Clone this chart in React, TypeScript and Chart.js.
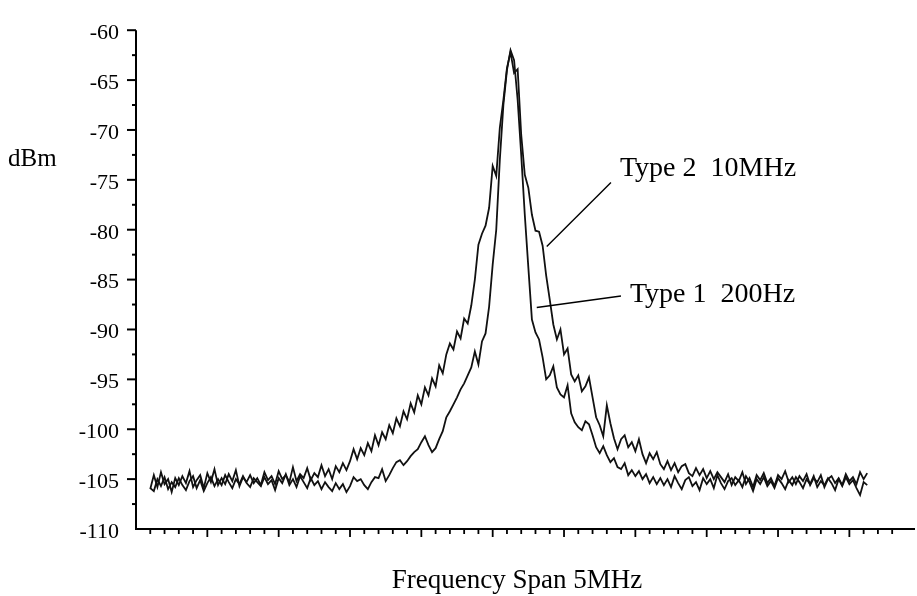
import React, { useEffect, useRef } from "react";
import { Chart, registerables } from "chart.js";

Chart.register(...registerables);

// ---- Data -----------------------------------------------------------------
// Sweep positions: index i -> FREQ_START + i * FREQ_STEP (axis divisions)
const FREQ_START = 1;
const FREQ_STEP = 0.25;

const X_MIN = 0;
const X_MAX = 54.6;
const Y_MIN = -110;
const Y_MAX = -60;
const Y_STEP = 2.5;
const X_STEP = 1;

// Type 2 10MHz (broad trace), dBm
const TYPE2_DBM = [
  -106.0, -104.6, -105.8, -104.3, -105.5, -105.0, -106.3, -104.9, -105.6, -104.7,
  -105.4, -104.2, -105.8, -105.1, -104.6, -105.9, -104.4, -105.3, -104.0, -105.6,
  -104.9, -105.5, -104.5, -105.2, -104.1, -105.7, -104.8, -105.3, -104.6, -105.4,
  -104.9, -105.6, -104.3, -105.1, -104.7, -105.5, -104.2, -105.0, -104.6, -105.3,
  -103.8, -105.2, -104.5, -104.9, -103.9, -105.1, -104.4, -104.8, -103.6, -104.7,
  -104.0, -105.0, -103.7, -104.3, -103.4, -104.1,
  -103.2, -102.0, -103.0, -101.9, -102.6, -101.4, -102.2, -100.6, -101.6, -100.3,
  -101.0, -99.6, -100.4, -98.9, -99.7, -98.2, -99.0, -97.4, -98.3, -96.6,
  -97.5, -95.8, -96.6, -94.9, -95.7, -93.6, -94.4, -92.5, -91.4, -92.0,
  -90.2, -90.9, -88.9, -89.4, -87.6,
  -85.0, -81.5, -80.4, -79.6, -77.8, -73.6, -74.6, -69.8, -67.0, -63.8,
  -62.2, -64.3, -63.9, -70.5, -74.5, -75.8, -78.5, -80.1, -80.2, -81.6,
  -84.6, -87.0,
  -89.5, -91.0, -90.0, -92.5, -91.9, -94.5, -95.2, -94.6, -96.2, -95.7,
  -94.8, -96.8, -98.8, -99.6, -100.7, -97.6, -99.4, -100.9, -102.0, -101.0,
  -100.6, -101.8, -101.3, -102.2, -101.0, -102.5, -103.4, -102.4, -103.0, -102.3,
  -103.5, -104.0, -103.2, -104.1, -103.4, -104.3, -103.7, -103.5, -104.4, -104.7,
  -103.9, -104.6, -104.0, -104.9, -104.2, -105.0, -104.3, -104.8,
  -105.3, -104.5, -105.6, -104.8, -105.2, -104.3, -105.5, -104.9, -105.8, -104.6,
  -105.1, -104.4, -105.4, -104.9, -105.7, -104.6, -105.0, -104.2, -105.3, -104.8,
  -105.5, -104.7, -105.2, -104.5, -105.6, -104.9, -105.3, -104.6, -105.8, -105.0,
  -104.7, -105.4, -104.9, -105.6, -104.5, -105.2, -104.8, -105.5, -104.3, -105.0,
  -104.4,
];

// Type 1 200Hz (narrow trace), dBm
const TYPE1_DBM = [
  -105.9, -106.2, -105.0, -105.7, -104.8, -106.0, -105.3, -105.8, -104.9, -105.6,
  -106.1, -105.2, -104.7, -105.9, -105.1, -106.2, -105.4, -104.8, -105.7, -105.0,
  -105.6, -104.6, -105.3, -105.9, -105.0, -105.5, -104.7, -105.4, -105.8, -104.9,
  -105.3, -105.7, -104.8, -105.5, -105.1, -106.1, -104.9, -105.4, -104.5, -105.6,
  -105.0, -105.8, -104.7, -105.3, -105.9, -104.9, -105.6, -105.2, -106.0, -105.3,
  -105.8, -106.2, -105.4, -106.0, -105.5, -106.3,
  -105.7, -104.8, -105.2, -105.0, -105.6, -106.0, -105.3, -104.8, -104.9, -104.0,
  -105.2, -104.6, -103.9, -103.3, -103.1, -103.6, -103.2, -102.7, -102.3, -102.0,
  -101.3, -100.7, -101.6, -102.3, -101.9, -101.0, -100.2, -98.8, -98.2, -97.5,
  -96.8, -96.0, -95.4, -94.6, -93.8, -92.2, -93.5, -91.2, -90.4, -87.7,
  -83.5, -80.0, -73.0, -67.5, -64.0, -62.0, -63.0, -67.0, -72.5, -78.5,
  -83.8, -89.0,
  -90.3, -91.0, -92.8, -95.0, -94.6, -93.7, -95.8, -96.5, -96.8, -95.6,
  -98.4, -99.3, -99.8, -100.1, -99.2, -99.5, -100.6, -101.8, -102.4, -101.7,
  -102.6, -103.3, -102.9, -103.8, -104.0, -103.4, -104.6, -104.1, -104.7, -104.2,
  -105.0, -104.5, -105.4, -104.8, -105.5, -104.9, -105.6,
  -105.0, -105.8, -104.7, -105.4, -106.0, -105.1, -104.8, -105.7, -105.3, -106.1,
  -104.9, -105.5, -105.0, -105.9, -104.6, -105.4, -106.0, -105.2, -104.9, -105.6,
  -105.1, -105.8, -104.7, -105.3, -106.2, -105.0, -105.5, -104.8, -105.7, -105.2,
  -105.9, -104.9, -105.4, -106.0, -105.1, -105.6, -104.8, -105.3, -105.9, -105.0,
  -105.5, -104.7, -105.8, -105.2, -105.6, -104.9, -105.4, -106.1, -105.0, -105.7,
  -104.8, -105.5, -105.1, -105.9, -106.6, -105.3, -105.6,
];

// Annotation labels with leader lines (data coordinates)
const SERIES_LABELS = ["Type 2  10MHz", "Type 1  200Hz"];
const LABEL_X = [33.92, 34.62];
const LABEL_Y = [-74.6, -87.24];
const LEADER_FROM_X = [33.29, 33.99];
const LEADER_FROM_Y = [-75.27, -86.65];
const LEADER_TO_X = [28.79, 28.09];
const LEADER_TO_Y = [-81.69, -87.79];

const Y_TITLE = "dBm";
const X_TITLE = "Frequency Span 5MHz";

// ---------------------------------------------------------------------------

const toPoints = (vals: number[]) =>
  vals.map((v, i) => ({ x: FREQ_START + i * FREQ_STEP, y: v }));

const SERIF = "'Liberation Serif', 'Times New Roman', serif";

const decorPlugin = {
  id: "decor",
  afterDraw(chart: any) {
    const { ctx, chartArea } = chart;
    const xs = chart.scales.x;
    const ys = chart.scales.y;
    ctx.save();
    ctx.strokeStyle = "#000";
    ctx.fillStyle = "#000";

    // axis lines
    ctx.lineWidth = 2;
    ctx.beginPath();
    ctx.moveTo(chartArea.left, chartArea.top);
    ctx.lineTo(chartArea.left, chartArea.bottom);
    ctx.lineTo(chartArea.right, chartArea.bottom);
    ctx.stroke();

    // y tick marks (outside, left)
    ys.ticks.forEach((t: any) => {
      if (t.value <= Y_MIN) return;
      const py = ys.getPixelForValue(t.value);
      const major = Math.abs(t.value % 5) < 1e-6;
      const len = major ? 9 : 4;
      ctx.beginPath();
      ctx.moveTo(chartArea.left - len, py);
      ctx.lineTo(chartArea.left, py);
      ctx.stroke();
    });

    // x tick marks (outside, below)
    ctx.lineWidth = 1.8;
    xs.ticks.forEach((t: any) => {
      const v = t.value;
      if (v <= X_MIN || Math.abs(v - Math.round(v)) > 1e-6) return;
      const px = xs.getPixelForValue(v);
      const major = Math.round(v) % 5 === 0;
      const len = major ? 8 : 5;
      ctx.beginPath();
      ctx.moveTo(px, chartArea.bottom);
      ctx.lineTo(px, chartArea.bottom + len);
      ctx.stroke();
    });

    // leader lines
    ctx.lineWidth = 1.4;
    for (let k = 0; k < SERIES_LABELS.length; k++) {
      ctx.beginPath();
      ctx.moveTo(xs.getPixelForValue(LEADER_FROM_X[k]), ys.getPixelForValue(LEADER_FROM_Y[k]));
      ctx.lineTo(xs.getPixelForValue(LEADER_TO_X[k]), ys.getPixelForValue(LEADER_TO_Y[k]));
      ctx.stroke();
    }

    // labels
    ctx.textBaseline = "alphabetic";
    ctx.textAlign = "left";
    ctx.font = `28px ${SERIF}`;
    for (let k = 0; k < SERIES_LABELS.length; k++) {
      ctx.fillText(SERIES_LABELS[k], xs.getPixelForValue(LABEL_X[k]), ys.getPixelForValue(LABEL_Y[k]));
    }

    // y title (horizontal, left of tick labels)
    ctx.font = `25px ${SERIF}`;
    ctx.fillText(Y_TITLE, 8, chartArea.top + 136);

    // x title
    ctx.textAlign = "center";
    ctx.font = `27px ${SERIF}`;
    ctx.fillText(X_TITLE, chartArea.left + 381, chartArea.bottom + 59);

    ctx.restore();
  },
};

export default function App() {
  const canvasRef = useRef<HTMLCanvasElement | null>(null);

  useEffect(() => {
    const canvas = canvasRef.current;
    if (!canvas) return;
    const chart = new Chart(canvas, {
      type: "line",
      data: {
        datasets: [
          {
            label: SERIES_LABELS[0],
            data: toPoints(TYPE2_DBM),
            borderColor: "#111",
            borderWidth: 1.8,
            pointRadius: 0,
            tension: 0,
            fill: false,
          },
          {
            label: SERIES_LABELS[1],
            data: toPoints(TYPE1_DBM),
            borderColor: "#111",
            borderWidth: 1.8,
            pointRadius: 0,
            tension: 0,
            fill: false,
          },
        ],
      },
      options: {
        animation: false,
        responsive: false,
        devicePixelRatio: 1,
        layout: { padding: { top: 15, right: 2, left: 0, bottom: 0 } },
        plugins: {
          legend: { display: false },
          tooltip: { enabled: false },
          title: { display: false },
        },
        scales: {
          x: {
            type: "linear",
            min: X_MIN,
            max: X_MAX,
            ticks: { display: false, stepSize: X_STEP },
            grid: { display: false, drawTicks: false, tickLength: 0 },
            border: { display: false },
            afterFit: (s: any) => {
              s.height = 67;
            },
          },
          y: {
            type: "linear",
            min: Y_MIN,
            max: Y_MAX,
            ticks: {
              stepSize: Y_STEP,
              autoSkip: false,
              padding: 17,
              labelOffset: 3,
              color: "#000",
              font: { family: SERIF, size: 22 },
              callback: (v: any) => (Math.abs(Number(v) % 5) < 1e-6 ? String(v) : ""),
            },
            grid: { display: false, drawTicks: false, tickLength: 0 },
            border: { display: false },
            afterFit: (s: any) => {
              s.width = 136;
            },
          },
        },
      },
      plugins: [decorPlugin],
    });
    return () => chart.destroy();
  }, []);

  return (
    <div style={{ position: "fixed", left: 0, top: 0, width: 917, height: 596, background: "#fff" }}>
      <canvas ref={canvasRef} width={917} height={596} />
    </div>
  );
}
